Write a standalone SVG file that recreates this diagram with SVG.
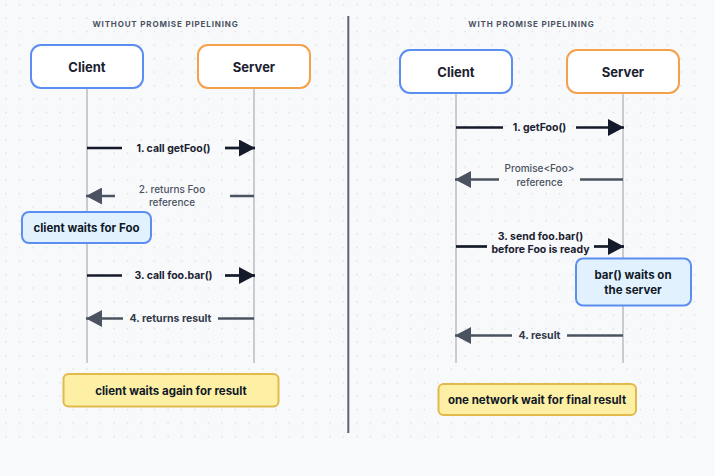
<svg xmlns="http://www.w3.org/2000/svg" width="715" height="476" viewBox="0 0 715 476">
<defs>
<pattern id="dots" x="0" y="0" width="13.5" height="13.5" patternUnits="userSpaceOnUse">
<circle cx="6" cy="4.7" r="0.8" fill="#d3d7de"/>
</pattern>
<marker id="headDark" viewBox="0 0 16 17" refX="16" refY="8.5" markerWidth="16" markerHeight="17" markerUnits="userSpaceOnUse" orient="auto">
<path d="M0,0 L16,8.5 L0,17 Z" fill="#141a2a"/>
</marker>
<marker id="headGray" viewBox="0 0 16 17" refX="16" refY="8.5" markerWidth="16" markerHeight="17" markerUnits="userSpaceOnUse" orient="auto">
<path d="M0,0 L16,8.5 L0,17 Z" fill="#4b5361"/>
</marker>
</defs>
<style>
text{font-family:Inter,"Liberation Sans",sans-serif;text-anchor:middle;dominant-baseline:central}
.title{font-size:8px;font-weight:700;letter-spacing:0.85px;fill:#4b5261}
.actor{fill:#ffffff;stroke-width:2}
.client{stroke:#5b8ef0}
.server{stroke:#f5a04a}
.actorText{font-size:13px;font-weight:700;fill:#1b2130}
.life{stroke:#c9cbd0;stroke-width:2}
.dark{stroke:#141a2a;stroke-width:2.7;fill:none}
.gray{stroke:#4b5361;stroke-width:2.5;fill:none}
.lblDark{font-size:10.5px;font-weight:700;fill:#1b2130}
.lblGray{font-size:10px;font-weight:500;fill:#4b5361}
.lblGrayB{font-size:10.5px;font-weight:700;fill:#343b49}
.callout{fill:#e1f2fe;stroke:#5b8ef0;stroke-width:2}
.note{fill:#fdf0a5;stroke:#e2b94b;stroke-width:2}
.boxText{font-size:11.5px;font-weight:700;fill:#111827}
</style>
<rect width="715" height="476" fill="#f8f9fb"/>
<rect x="0" y="0" width="702" height="442" fill="url(#dots)"/>

<line x1="348.3" y1="16" x2="348.3" y2="433" stroke="#5e6472" stroke-width="2"/>

<text class="title" x="165.5" y="24">WITHOUT PROMISE PIPELINING</text>
<text class="title" x="531.5" y="24">WITH PROMISE PIPELINING</text>

<g id="lifelines">
<line class="life" x1="87" y1="88" x2="87" y2="363"/>
<line class="life" x1="254" y1="88" x2="254" y2="363"/>
<line class="life" x1="456" y1="93" x2="456" y2="363"/>
<line class="life" x1="623" y1="93" x2="623" y2="363"/>
</g>

<g id="left-client">
<rect class="actor client" x="31" y="45" width="112" height="43" rx="10"/>
<text class="actorText" x="87" y="67">Client</text>
</g>
<g id="left-server">
<rect class="actor server" x="198" y="45" width="112" height="43" rx="10"/>
<text class="actorText" x="254" y="67">Server</text>
</g>
<g id="right-client">
<rect class="actor client" x="400" y="50" width="112" height="43" rx="10"/>
<text class="actorText" x="456" y="72">Client</text>
</g>
<g id="right-server">
<rect class="actor server" x="567" y="50" width="112" height="43" rx="10"/>
<text class="actorText" x="623" y="72">Server</text>
</g>

<g id="connectors">
<line class="dark" x1="87" y1="148" x2="122" y2="148"/>
<line class="dark" x1="225" y1="148" x2="255" y2="148" marker-end="url(#headDark)"/>
<text class="lblDark" x="173.5" y="148">1. call getFoo()</text>
<line class="gray" x1="254" y1="196" x2="230" y2="196"/>
<line class="gray" x1="115" y1="196" x2="86" y2="196" marker-end="url(#headGray)"/>
<text class="lblGray" x="172" y="189">2. returns Foo</text>
<text class="lblGray" x="172" y="201.5">reference</text>
<line class="dark" x1="87" y1="275.5" x2="122" y2="275.5"/>
<line class="dark" x1="225" y1="275.5" x2="255" y2="275.5" marker-end="url(#headDark)"/>
<text class="lblDark" x="173.5" y="275.5">3. call foo.bar()</text>
<line class="gray" x1="254" y1="318.5" x2="218" y2="318.5"/>
<line class="gray" x1="123" y1="318.5" x2="86" y2="318.5" marker-end="url(#headGray)"/>
<text class="lblGrayB" x="170.5" y="318.5">4. returns result</text>
<line class="dark" x1="456" y1="127.5" x2="503" y2="127.5"/>
<line class="dark" x1="576" y1="127.5" x2="624" y2="127.5" marker-end="url(#headDark)"/>
<text class="lblDark" x="539.5" y="127.5">1. getFoo()</text>
<line class="gray" x1="623" y1="179.5" x2="580" y2="179.5"/>
<line class="gray" x1="499" y1="179.5" x2="455" y2="179.5" marker-end="url(#headGray)"/>
<text class="lblGray" x="539.5" y="168">Promise&lt;Foo&gt;</text>
<text class="lblGray" x="539.5" y="182">reference</text>
<line class="dark" x1="456" y1="246.5" x2="487" y2="246.5"/>
<line class="dark" x1="594" y1="246.5" x2="624" y2="246.5" marker-end="url(#headDark)"/>
<text class="lblDark" x="540.5" y="236">3. send foo.bar()</text>
<text class="lblDark" x="540.5" y="249.5">before Foo is ready</text>
<line class="gray" x1="623" y1="335.5" x2="567" y2="335.5"/>
<line class="gray" x1="512" y1="335.5" x2="455" y2="335.5" marker-end="url(#headGray)"/>
<text class="lblGrayB" x="539.5" y="335.5">4. result</text>
</g>

<g id="client-waits">
<rect class="callout" x="22" y="212" width="129" height="31" rx="7"/>
<text class="boxText" x="86.5" y="228">client waits for Foo</text>
</g>
<g id="bar-waits">
<rect class="callout" x="576" y="258.5" width="115" height="47" rx="7"/>
<text class="boxText" x="633" y="275">bar() waits on</text>
<text class="boxText" x="633" y="289.5">the server</text>
</g>
<g id="note-left">
<rect class="note" x="63.5" y="374" width="215" height="32.5" rx="5"/>
<text class="boxText" x="171" y="390.5">client waits again for result</text>
</g>
<g id="note-right">
<rect class="note" x="438.5" y="384" width="197.5" height="31" rx="5"/>
<text class="boxText" x="537" y="400">one network wait for final result</text>
</g>
</svg>
